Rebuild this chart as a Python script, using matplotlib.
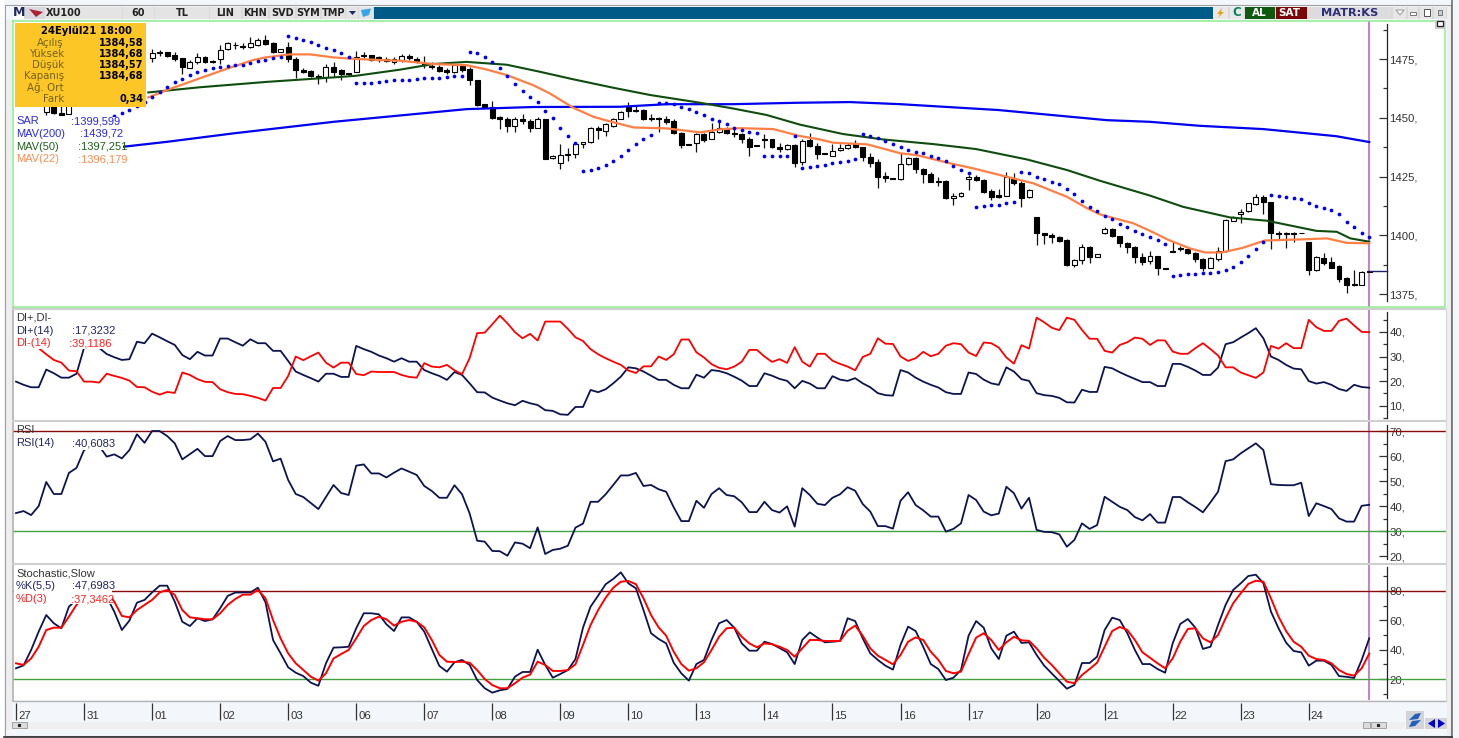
import numpy as np
import matplotlib
matplotlib.use("Agg")
import matplotlib.pyplot as plt
from matplotlib.patches import Rectangle, Polygon
from matplotlib.ticker import FuncFormatter

plt.rcParams['font.family'] = ['Liberation Sans', 'DejaVu Sans']

nan = np.nan

# bars: 9 hourly candles per trading day, one row per day. nan = hidden behind the info box
opens = [
    nan, nan, nan, nan, 1452.4, 1456.3, 1451.9, 1451.6, nan,
    nan, nan, nan, nan, nan, nan, nan, nan, nan,
    1475.3, 1477.8, 1477.8, 1476.7, 1475.3, 1471.3, 1473.6, 1475.7, 1474.1,
    1474.9, 1479.1, 1481.2, 1480.5, 1480.2, 1480.9, 1483.1, 1481.7, 1478.1,
    1480.2, 1474.9, 1470.3, 1469.9, 1467.9, 1467.2, 1471.7, 1470.3, 1468.9,
    1469.6, 1476.7, 1476.6, 1475.7, 1475, 1473.6, 1474.6, 1476.3, 1475,
    1473.4, 1472, 1471.7, 1470.3, 1469.6, 1472, 1470.7, 1466.3, 1455.7,
    1454.7, 1450.5, 1449.7, 1446.6, 1449.3, 1448.6, 1445.8, 1449.7, 1432.7,
    1430.9, 1434.7, 1434.7, 1438.7, 1439.5, 1445.6, 1444.6, 1446.5, 1449.6,
    1454.7, 1453.3, 1453.3, 1450, 1450, 1449.3, 1448.5, 1443.7, 1438.8,
    1439.4, 1443.1, 1441, 1443.8, 1445.5, 1443.7, 1443.2, 1441.2, 1438.4,
    1441, 1441, 1437.5, 1436.6, 1438.4, 1431.3, 1440.5, 1438, 1434.9,
    1433.9, 1436.1, 1437, 1438.7, 1437.4, 1433.4, 1431, 1425.1, 1424.5,
    1423.8, 1430.2, 1432.7, 1428.2, 1425.9, 1423.2, 1423, 1415.7, 1416.6,
    1423.8, 1424.9, 1423.5, 1418.7, 1417, 1416.8, 1423.8, 1422.1, 1416.1,
    1407.6, 1401.2, 1400.1, 1399.1, 1398, 1387.3, 1389.6, 1394.9, 1390.9,
    1400.8, 1402.7, 1399.7, 1396.8, 1395.1, 1390.6, 1389.2, 1391.2, 1386.1,
    1393.4, 1394.4, 1394.3, 1392.6, 1390, 1386.3, 1389.9, 1393.4, 1406.2,
    1409, 1410.3, 1413.2, 1416.4, 1414.3, 1401.2, 1400.8, 1400.8, 1401.1,
    1397.3, 1385.2, 1390.5, 1388.8, 1386.9, 1382, 1379.1, 1379, 1384.58,
]
highs = [
    nan, nan, nan, nan, 1458, 1457, 1456, 1457, nan,
    nan, nan, nan, nan, nan, nan, nan, nan, nan,
    1479.1, 1478.8, 1478.1, 1478.1, 1475.6, 1474.6, 1477.4, 1476.3, 1474.6,
    1480.9, 1482.1, 1482.4, 1481.7, 1484.2, 1484.1, 1485.2, 1482.1, 1479.2,
    1482.4, 1476, 1471.3, 1470.3, 1468.6, 1472.9, 1473.9, 1470.6, 1469.2,
    1478.5, 1478.1, 1476.8, 1476.3, 1476, 1475.7, 1477.1, 1477, 1475.7,
    1476.3, 1473.9, 1472.4, 1471.4, 1473.1, 1473.1, 1471.7, 1466.3, 1455.7,
    1457.3, 1450.7, 1450.2, 1450.5, 1451.6, 1449.3, 1450.5, 1449.7, 1434.2,
    1438.8, 1437, 1439.4, 1439.8, 1445.9, 1446.5, 1447.6, 1450, 1452.9,
    1456.8, 1455.1, 1453.6, 1451.6, 1450.2, 1450.7, 1449.6, 1443.9, 1438.8,
    1443.4, 1443.7, 1447.6, 1449, 1445.9, 1445.1, 1443.7, 1441.7, 1438.4,
    1443, 1441.2, 1439.1, 1438.8, 1438.7, 1440.8, 1443.6, 1439.1, 1434.9,
    1438.8, 1438.8, 1439.1, 1440.5, 1437.7, 1434.9, 1432.6, 1427.1, 1424.5,
    1434.9, 1433.2, 1433.2, 1428.5, 1427.1, 1424.9, 1423.5, 1417.8, 1418.4,
    1425.6, 1425.6, 1423.8, 1419.5, 1419.5, 1427.1, 1426.6, 1423.2, 1419.7,
    1407.9, 1401.2, 1400.8, 1399.8, 1398.3, 1389.9, 1396.1, 1395.4, 1392,
    1403.6, 1403, 1399.8, 1397.3, 1395.4, 1392.6, 1393.4, 1391.3, 1386.1,
    1397, 1395.4, 1394.6, 1393, 1390.2, 1390.6, 1395.1, 1406.8, 1408.2,
    1411, 1413.9, 1417.5, 1417.1, 1414.3, 1401.8, 1401.5, 1401.5, 1401.1,
    1397.3, 1391.2, 1392.6, 1390.9, 1387.3, 1382.1, 1385.2, 1384.9, 1384.68,
]
lows = [
    nan, nan, nan, nan, 1451.2, 1451.5, 1451.2, 1451.5, nan,
    nan, nan, nan, nan, nan, nan, nan, nan, nan,
    1473.6, 1476.3, 1475.7, 1474.3, 1468.6, 1471, 1472.9, 1473.2, 1473.2,
    1472.7, 1478.8, 1479.4, 1479.1, 1479.8, 1480.7, 1480.9, 1477.4, 1477.8,
    1473.9, 1466.8, 1468.9, 1467.2, 1464.6, 1465.4, 1467.2, 1466.3, 1468.2,
    1469.3, 1475.3, 1474, 1473.9, 1473.6, 1472.9, 1473.9, 1474.6, 1473.4,
    1471.4, 1470.6, 1469.6, 1468.6, 1469.2, 1469.3, 1464.1, 1455.1, 1454.3,
    1449.3, 1445.1, 1444.1, 1444.1, 1447.3, 1444.1, 1445.5, 1432.6, 1432.6,
    1428.1, 1431.7, 1433, 1437, 1439.2, 1441, 1442.4, 1446.2, 1449.3,
    1450.2, 1452.6, 1449, 1448.8, 1444.1, 1447.3, 1443.1, 1437.3, 1438.3,
    1435.3, 1439.8, 1440.8, 1443.7, 1443.1, 1441.8, 1439.1, 1433.9, 1438,
    1437, 1437, 1435.6, 1436.3, 1428.9, 1429.9, 1437.7, 1432.3, 1434.4,
    1433.7, 1435.8, 1436.7, 1437, 1431.7, 1429.2, 1420, 1422.5, 1423.8,
    1423.5, 1429.9, 1426.6, 1422.4, 1422.5, 1421.1, 1415.3, 1412.7, 1416.3,
    1419.3, 1423.1, 1417.8, 1415, 1415.7, 1416.7, 1421.4, 1412.2, 1416,
    1395.8, 1396.3, 1396.8, 1397.3, 1387, 1386.6, 1387.6, 1388.3, 1390.6,
    1400.5, 1399.4, 1395.1, 1392.6, 1388.3, 1387.3, 1388, 1383.1, 1385.6,
    1392.7, 1393.4, 1392, 1388.5, 1384.9, 1385.9, 1389.2, 1393.1, 1405.9,
    1405.4, 1410, 1412.9, 1409, 1394.1, 1398.3, 1394.7, 1397, 1400.8,
    1383.1, 1384.9, 1387.3, 1385.9, 1380.3, 1375.6, 1378.4, 1378.8, 1384.57,
]
closes = [
    nan, nan, nan, nan, 1457.5, 1452, 1451.3, 1456, nan,
    nan, nan, nan, nan, nan, nan, nan, nan, nan,
    1477.4, 1477.5, 1476.4, 1475.1, 1471.7, 1473.9, 1475.7, 1473.6, 1473.9,
    1478.8, 1481.7, 1480.8, 1480.2, 1481.7, 1483.1, 1481.4, 1477.8, 1479.1,
    1474.9, 1470.3, 1469.7, 1467.9, 1466.8, 1471.7, 1469.5, 1468.5, 1468.6,
    1476, 1476.4, 1474.6, 1474.4, 1474, 1474.9, 1476.4, 1475.4, 1474.3,
    1472.6, 1471.7, 1470, 1469.7, 1472.4, 1470.3, 1466.1, 1455.4, 1454.6,
    1450, 1449.7, 1446.5, 1449.5, 1448.5, 1445.8, 1449.7, 1432.6, 1433.9,
    1434.2, 1434.2, 1438.7, 1439.5, 1445.6, 1444.8, 1447.2, 1449.6, 1452.4,
    1452.9, 1452.9, 1449.3, 1449.6, 1449.3, 1448.3, 1443.4, 1438.5, 1438.3,
    1443.1, 1440.5, 1444.1, 1445.5, 1443.5, 1443.2, 1441.2, 1437.7, 1438,
    1440.5, 1437.4, 1436.7, 1438.3, 1430.6, 1440.2, 1438, 1434.6, 1434.4,
    1435.8, 1437.1, 1438.5, 1437.7, 1433.4, 1430.9, 1424.9, 1424.6, 1423.8,
    1430.2, 1432.7, 1428.2, 1425.9, 1422.8, 1422.9, 1416, 1416.6, 1418.1,
    1424.9, 1423.5, 1418.5, 1416.3, 1416.4, 1424.9, 1422.1, 1416, 1419.3,
    1401.2, 1400.1, 1399.1, 1397.7, 1387.3, 1389.6, 1394.9, 1390.9, 1391.9,
    1402.5, 1399.7, 1396.8, 1395.1, 1390.9, 1388.5, 1391.2, 1385.9, 1385.6,
    1392.9, 1394.2, 1392.3, 1389.9, 1386.3, 1390.2, 1393.4, 1406.5, 1407.6,
    1410, 1413.6, 1416.4, 1414, 1401.1, 1400.4, 1400.4, 1400.5, 1400.8,
    1385.2, 1390.6, 1388.3, 1386.2, 1381.4, 1379, 1378.7, 1384.4, 1384.68,
]

# parabolic SAR, first bars are hidden behind the info box
sar = [
    nan, nan, nan, nan, nan, nan, nan, nan, nan,
    nan, nan, nan, nan, 1450.9, 1452.1, 1453.3, 1455, 1456.7,
    1458.7, 1461, 1463, 1465.1, 1466.5, 1468.1, 1469.3, 1470.3, 1471.2,
    1471.8, 1472, 1472.3, 1472.6, 1473.2, 1474.1, 1474.6, 1475.3, 1476,
    1484.8, 1484.1, 1483.1, 1482.4, 1481, 1479.8, 1478.8, 1477.4, 1476,
    1464.7, 1464.7, 1464.9, 1465.3, 1465.5, 1466, 1466, 1466, 1466.5,
    1466.8, 1466.8, 1467, 1467.5, 1467.8, 1467.8, 1478.1, 1477.4, 1476,
    1473.7, 1471, 1467.8, 1464.2, 1461.3, 1459, 1456.8, 1452.9, 1449.8,
    1445.6, 1442.4, 1439.4, 1427.5, 1427.8, 1428.6, 1429.8, 1431.6, 1433.6,
    1436.3, 1438.8, 1441.1, 1442.8, 1456.4, 1456.4, 1455.8, 1454.7, 1453.6,
    1452.3, 1451, 1449.6, 1448.6, 1447.2, 1445.8, 1444.8, 1443.9, 1443.4,
    1433.6, 1433.6, 1433.6, 1433.8, 1442.2, 1428.7, 1428.9, 1429.3, 1429.9,
    1430.6, 1431.2, 1431.7, 1432.4, 1443.1, 1442.2, 1441.5, 1440.1, 1438.8,
    1437.7, 1436.3, 1435.4, 1434.9, 1433.7, 1432.9, 1431.5, 1429.5, 1427.8,
    1426.4, 1412.1, 1412.4, 1412.9, 1413, 1413.6, 1414.1, 1426.8, 1426.4,
    1424.9, 1423.9, 1422.8, 1421.8, 1419.8, 1417.6, 1414.7, 1412.1, 1410.2,
    1408.3, 1406.8, 1404.9, 1403.4, 1401.8, 1400.5, 1399.3, 1397.8, 1396.3,
    1382.7, 1383, 1383.4, 1383.5, 1383.8, 1384.1, 1384.5, 1385.2, 1386.6,
    1388.5, 1391.2, 1394, 1397, 1417, 1416.7, 1416.1, 1415.8, 1415.3,
    1413.9, 1412.6, 1411.6, 1410.7, 1408.9, 1405.8, 1403.6, 1401.1, 1399.1,
]

mav22_bars = [17.5, 20.3, 24.3, 28, 31.4, 33, 36.2, 38.9, 42, 44.7, 48.1, 50.8, 55.2, 59.6, 62.2, 64.9, 68.4,
              70.6, 73.7, 76.4, 79, 81.7, 86.1, 90.5, 93.1, 95.8, 100.2, 103.6, 106.3, 108.1, 112.6, 117,
              119.2, 123.6, 126.6, 130.2, 134.6, 139, 141.7, 143.4, 147.8, 150, 152.4, 155.3, 157.3, 159.5,
              162.3, 165.2, 170.3, 173.4, 176, 179]
mav22 = [1458.7, 1462.2, 1466.8, 1471, 1474.6, 1475.7, 1477, 1477, 1475.7, 1475.1, 1474.6, 1474.3, 1472.9, 1472.4,
         1470.6, 1468.2, 1463.9, 1460.4, 1454.3, 1450.4, 1448.1, 1445.9, 1445.5, 1443.8, 1445.1, 1445.6, 1445.2,
         1442.3, 1440.8, 1439.4, 1438.7, 1434.9, 1434.1, 1430.6, 1428.5, 1425.6, 1422.1, 1416.4, 1411.5, 1408.9,
         1405.1, 1401.9, 1398.1, 1394.4, 1392.7, 1392.7, 1394.7, 1397.8, 1398.3, 1398.7, 1396.8, 1396.6]
mav50_bars = [17.5, 24.3, 33.2, 42, 45, 50.8, 55.2, 59.6, 64.9, 69.3, 73.7, 79, 83.9, 90.5, 94.8, 99.3, 103.7,
              109.4, 114.7, 121.4, 127, 133.7, 139, 143.4, 150, 154.4, 160.6, 165.5, 172, 174.7, 176.5, 179]
mav50 = [1460.8, 1463, 1465.3, 1467.2, 1467.9, 1470.5, 1472.9, 1473.8, 1472.6, 1469.6, 1466.4, 1462.8, 1459.7,
         1456.4, 1454, 1451.2, 1447.1, 1443.1, 1440.8, 1438.8, 1436.7, 1432.3, 1427.8, 1423.2, 1416.9, 1412.1,
         1407.6, 1406.2, 1401.9, 1401.5, 1398.7, 1397.3]
mav200_bars = [14.2, 20, 28.8, 42, 50.8, 59.6, 68.4, 79.9, 86.1, 94.8, 103.2, 110.3, 117, 130, 144.3, 150, 156.6,
               165, 174.6, 179]
mav200 = [1437.7, 1439.8, 1443.4, 1448.3, 1451, 1453.7, 1454.6, 1454.7, 1455.8, 1455.8, 1456.4, 1456.7, 1455.8,
          1453.3, 1449, 1448.3, 1446.6, 1445.2, 1442.2, 1439.7]

di_plus = [
    19.8, 18.5, 17.5, 17.5, 24.7, 23.2, 21.4, 21.4, 23,
    33.5, 36, 33.5, 31, 29.7, 28.6, 28.9, 36, 35.4,
    39.3, 37.8, 36.2, 34.7, 30.6, 28.9, 31.9, 30.4, 30.4,
    37.3, 37.3, 35.8, 34.4, 37, 35.4, 35.4, 32.3, 32.3,
    28.2, 23.9, 22.5, 21.2, 19.8, 23, 23, 21.7, 21.7,
    34.3, 33, 31.9, 30.4, 29.3, 27.9, 29.3, 27.9, 27.9,
    24.5, 23.2, 22.1, 20.5, 23.7, 22.5, 19.1, 15.5, 15.4,
    13.3, 12.1, 11, 10.2, 12, 11, 10.3, 8.2, 7.9,
    6.5, 6.3, 9.5, 9.5, 16.4, 15.5, 16.7, 19.1, 21.8,
    25.6, 25.2, 23.9, 22.2, 20.5, 20.5, 18.5, 17.1, 17.1,
    22.6, 21.4, 24.5, 24.1, 23.2, 21.8, 20.2, 18, 18,
    23.2, 22.2, 20.9, 20.1, 17.1, 20.1, 19, 17.1, 17.1,
    22, 20.6, 20.1, 21.2, 19.1, 17.5, 15.1, 14.3, 14.1,
    24.5, 23.5, 21.4, 19.8, 18.5, 17.4, 15.5, 14.8, 14.8,
    23.5, 22.9, 20.6, 19.1, 18.5, 25.6, 23.9, 20.8, 20.1,
    15.1, 14.3, 14, 13.2, 11.4, 11.3, 16.5, 15.6, 15.6,
    25.8, 25.2, 23.6, 22.2, 20.9, 19.6, 19.6, 18, 18,
    27, 27, 25.8, 24.3, 22.5, 22.5, 25.5, 35, 35.8,
    37.7, 39.5, 41.5, 37.4, 30, 28.6, 26.6, 25.1, 24.8,
    20, 19, 19.6, 18.5, 16.8, 16, 18.5, 17.6, 17.32,
]
di_minus = [
    38, 37, 35.5, 33.4, 30.9, 28.6, 27.5, 24.3, 24,
    19.8, 19.8, 19.4, 23, 22.1, 21.3, 20.2, 17.6, 17.5,
    15.7, 14.5, 15.6, 15.2, 23.5, 22.5, 20.8, 19.7, 19.6,
    16.7, 15.5, 14.8, 14.7, 14, 13.2, 12.1, 17.2, 17.2,
    22.1, 30, 28.5, 30.1, 31.6, 27.5, 25.5, 27.5, 27.5,
    22.9, 22.4, 23.9, 23.7, 23.7, 23.7, 22.5, 21.7, 21.4,
    27.3, 25.9, 25.6, 26.6, 24.4, 22.8, 29.3, 39.5, 39.7,
    43.1, 46.6, 43.5, 39.9, 37.4, 39.2, 36.5, 44.2, 44.2,
    44.2, 41.2, 37.8, 36.3, 33, 30.9, 29.3, 27.9, 26.6,
    24.3, 23.3, 26, 26, 30, 28.6, 30.9, 36.9, 36.9,
    31.7, 29.6, 26.9, 25.4, 24.8, 25.9, 27.9, 32.7, 32.7,
    30, 27.8, 28.9, 27.4, 33.8, 27.9, 25.9, 31.1, 31.1,
    28.3, 27, 25.9, 24.4, 29.8, 31.1, 37.4, 35.2, 35.1,
    30, 28.2, 29.3, 31.9, 30.1, 31.1, 34.4, 35.4, 35,
    31.6, 30.2, 35.7, 35.4, 33.6, 29.6, 27.1, 34.6, 33.2,
    45.8, 43.9, 41.7, 40.7, 45.8, 44.9, 40.8, 37.2, 37.2,
    32.3, 31.6, 34.7, 35.8, 37.7, 37.2, 34.7, 36.6, 36.5,
    32, 31.1, 31.1, 33.4, 35.4, 33, 30.4, 25.6, 25.6,
    23.5, 22.4, 21.3, 23.5, 34.3, 33.2, 35.4, 33.4, 33.4,
    44.9, 41.9, 40.4, 40.4, 44.5, 45.4, 42.6, 40, 39.9,
]
rsi = [
    37.3, 38.1, 36.5, 40.1, 49.7, 44.9, 44.9, 53.3, 55.3,
    62.4, 64, 64, 59.8, 60.7, 59.1, 62.4, 68.7, 65.3,
    70, 70, 68, 65.1, 58.7, 60.8, 62.9, 60, 60,
    66, 68, 66.4, 66.4, 66.7, 69, 65.7, 57.9, 59,
    50.5, 44.9, 43.7, 41.3, 38.9, 43.7, 48.5, 45.3, 44.5,
    56.2, 56.7, 53.1, 53.1, 51.5, 53.4, 55.1, 53.8, 52.5,
    48.1, 46.1, 43.4, 43.4, 48.4, 44.8, 37.2, 26.3, 25.9,
    22.2, 22.1, 20.3, 25.6, 25.1, 23.3, 31.6, 21, 22.6,
    23.1, 24.3, 31.5, 33.1, 41.8, 41.8, 44.8, 48.5, 52.3,
    52.3, 53.3, 48.1, 48.5, 46.8, 45.8, 39.6, 34.1, 34.1,
    42.2, 39.4, 44.9, 47.2, 44.5, 44, 41.6, 37.7, 37.7,
    41.8, 38.5, 37.5, 40, 31.9, 47.2, 44.5, 41, 40.5,
    43.4, 44.8, 47.6, 46.2, 40.9, 37.9, 32.1, 32.1, 31.1,
    42.2, 45.6, 40.5, 38.4, 35.9, 35.9, 29.9, 31, 33.2,
    44.5, 42.5, 37.9, 36.4, 37.1, 47.8, 45.2, 39.1, 43.4,
    30.6, 29.8, 29.7, 28.8, 23.9, 26.6, 33.2, 31, 32.5,
    43.8, 41.8, 39.8, 38.5, 35.7, 34.4, 36.9, 33.5, 33.5,
    43.7, 43.7, 41.6, 39.7, 37.6, 41.6, 45.8, 58, 58.7,
    61.1, 63.1, 65.1, 62.4, 48.8, 48.5, 48.4, 48.4, 49.4,
    36.1, 41.2, 40.1, 38.9, 35.2, 33.9, 33.9, 40.2, 40.6,
]
stoch_k = [
    27.3, 29.3, 39.8, 52.3, 63.6, 58, 54.6, 69.3, 74,
    78, 80, 78, 76, 65.9, 53.4, 59.8, 72, 73.9,
    79, 83.6, 83.6, 72.7, 59, 56.1, 61.4, 59.5, 60.7,
    68.2, 76.6, 78.9, 79, 79, 82.2, 72.3, 46.6, 37.5,
    28, 24.3, 22, 17.5, 15.4, 30.7, 41.4, 41.6, 42,
    54.6, 64.8, 64.8, 64.1, 57.3, 52.7, 62, 62, 59,
    52.3, 40.5, 28.9, 25, 31.4, 33, 29.6, 19.3, 13.7,
    10.7, 12.3, 13.2, 21.6, 24.8, 24.8, 40, 29.6, 20.9,
    23.4, 26.1, 33.6, 55, 69.3, 76.8, 84.6, 88.2, 92.7,
    85.2, 81.8, 67, 51.2, 47.3, 44.3, 31.1, 23.9, 18.9,
    30.2, 33, 46.6, 58, 60.2, 55, 44.3, 39.3, 39.3,
    45.4, 43.9, 41.1, 38.2, 30.2, 46.6, 51.8, 48.2, 45,
    45.4, 45.9, 61.4, 59.5, 47.7, 37.5, 33, 29.1, 26.4,
    43.2, 55.7, 52.7, 42, 30.2, 26.8, 19.3, 20.9, 26.1,
    49.5, 59.5, 55, 40.9, 33.6, 49.5, 52.3, 44.6, 45,
    36.4, 29.1, 23.9, 18.6, 13.4, 15.9, 30.9, 30.9, 35.2,
    53.4, 61.8, 60.2, 51.2, 39.8, 30.2, 30.2, 26.8, 24.3,
    44.3, 57.5, 60.9, 55, 40.5, 42, 56.8, 70.5, 80.7,
    85.2, 90.2, 91.1, 85.2, 65.9, 54.6, 44.8, 39.1, 38.2,
    29.1, 32.5, 32.5, 29.6, 22, 21.5, 20.7, 33, 47.7,
]
stoch_d = [
    30.7, 29.6, 34, 42, 53.4, 55, 55, 62.5, 70.5,
    76, 80, 81, 80, 72.7, 63, 62, 67, 70.5,
    73.9, 79, 80.7, 77.3, 67, 62, 61.4, 60.7, 60.7,
    64.8, 70.5, 74.5, 77.5, 77.5, 80.7, 75, 60.2, 47.7,
    37.5, 30.7, 26.1, 21.6, 18.9, 23.9, 34, 37, 39.8,
    47.7, 56.1, 60.2, 62.5, 60.7, 56.4, 59, 60.2, 59,
    55.2, 46.6, 36.4, 31.8, 31.6, 31.8, 31.1, 26.1, 20,
    15.9, 13.7, 13.7, 17.1, 20.9, 23, 31.8, 29.6, 25.5,
    25.5, 26.1, 30, 43.2, 56.8, 67, 75.4, 82.2, 86.3,
    86.8, 84.6, 75, 63.6, 55.2, 49.5, 38.6, 30.2, 25.7,
    27.3, 31.4, 39.8, 48.8, 54.6, 55, 48.8, 44.3, 41.6,
    44.3, 43.7, 42, 39.8, 35.2, 40.9, 46.6, 46.6, 45.9,
    45.9, 45.9, 52.9, 56.4, 49.5, 40.9, 35.9, 33, 30,
    36.4, 45.4, 48.4, 46.6, 38.6, 33, 25.5, 23.9, 25,
    37, 48.2, 51.2, 46.6, 39.8, 45, 48.8, 46.4, 46,
    40.9, 34.5, 29.6, 23.9, 18.2, 17.1, 22.7, 26.8, 31.1,
    42, 52.7, 55.5, 53.4, 46.6, 38.2, 34.5, 30.7, 27.3,
    34, 45.4, 54.1, 54.6, 47.7, 45, 50, 61.4, 71.6,
    78.4, 84.8, 87, 86.3, 75, 62.5, 52.7, 45.4, 42,
    35.9, 33.6, 33, 30.7, 26.1, 23.4, 22.3, 27.3, 37.35,
]

day_labels = ['27', '31', '01', '02', '03', '06', '07', '08', '09', '10',
              '13', '14', '15', '16', '17', '20', '21', '22', '23', '24']
bars_per_day = 9

info_rows = ['Açılış', 'Yüksek', 'Düşük', 'Kapanış', 'Ağ. Ort', 'Fark']
info_values = ['1384,58', '1384,68', '1384,57', '1384,68', '', '0,34']

W, H = 1459, 738
NAVY = '#0c1450'
RED = '#ff0000'
ORANGE = '#ff7f45'
DKGREEN = '#0e4d0e'
BLUE = '#0000f0'
DKRED = '#8b0a0a'
LINEGREEN = '#43a043'
MAGENTA = '#b45cc4'

fig = plt.figure(figsize=(W / 100, H / 100), dpi=100, facecolor='#f3f6fa')


def px_axes(left, top, right, bottom):
    # axes placed by screen pixels
    return fig.add_axes([left / W, 1 - bottom / H, (right - left) / W, (bottom - top) / H])


bars = np.arange(len(closes))
# x pixel of bar i is 16 + 7.56 i
x_limits = ((13 - 16) / 7.56, (1446 - 16) / 7.56)
axis_x = (1386.5 - 16) / 7.56


def setup_panel(ax, ylim, major, minor, bounds):
    ax.set_xlim(x_limits)
    ax.set_ylim(ylim)
    ax.set_facecolor('white')
    for side in ['top', 'left', 'bottom']:
        ax.spines[side].set_visible(False)
    ax.spines['right'].set_position(('data', axis_x))
    ax.spines['right'].set_bounds(bounds)
    ax.spines['right'].set_linewidth(0.9)
    ax.spines['right'].set_color('#222222')
    ax.set_xticks([])
    ax.yaxis.tick_right()
    ax.set_yticks(major)
    ax.set_yticks(minor, minor=True)
    ax.yaxis.set_major_formatter(FuncFormatter(lambda v, _: f'{v:.0f},'))
    ax.tick_params(axis='y', which='major', direction='in', length=6, width=0.9, pad=2,
                   labelsize=8.2, labelcolor='#333333', color='#333333')
    ax.tick_params(axis='y', which='minor', direction='in', length=3, width=0.9, color='#333333')
    ax.axvline(bars[-1], color=MAGENTA, lw=1.1, zorder=1)


# price panel
ax_price = px_axes(13, 21, 1446, 307)
setup_panel(ax_price, (1369.5, 1491.2), [1375, 1400, 1425, 1450, 1475],
            [1387.5, 1412.5, 1437.5, 1462.5, 1487.5], (1372, 1490))
for i in bars:
    if np.isnan(closes[i]):
        continue
    ax_price.vlines(i, lows[i], highs[i], color='#111111', lw=0.9, zorder=2)
    up = closes[i] >= opens[i]
    ax_price.bar(i, abs(closes[i] - opens[i]), bottom=min(opens[i], closes[i]), width=0.66,
                 color='white' if up else 'black', edgecolor='black', linewidth=0.8, zorder=3)
ax_price.plot(mav200_bars, mav200, color=BLUE, lw=1.6, zorder=4)
ax_price.plot(mav50_bars, mav50, color=DKGREEN, lw=1.5, zorder=5)
ax_price.plot(mav22_bars, mav22, color=ORANGE, lw=1.6, zorder=6)
ax_price.plot(bars, sar, ls='none', marker='o', ms=2.7, mew=0, color=BLUE, zorder=7)
ax_price.plot([bars[-1], axis_x], [closes[-1], closes[-1]], color='#20206a', lw=1, zorder=4)

# DI panel
ax_di = px_axes(13, 309.5, 1446, 420)
setup_panel(ax_di, (4.2, 49.1), [10, 20, 30, 40], [5, 15, 25, 35, 45], (5, 48))
ax_di.plot(bars, di_plus, color=NAVY, lw=1.3, zorder=3)
ax_di.plot(bars, di_minus, color=RED, lw=1.3, zorder=4)

# RSI panel
ax_rsi = px_axes(13, 422, 1446, 563)
setup_panel(ax_rsi, (17.4, 73.6), [20, 30, 40, 50, 60, 70], [25, 35, 45, 55, 65], (19, 72.5))
ax_rsi.axhline(70, color=DKRED, lw=1, zorder=2)
ax_rsi.axhline(30, color=LINEGREEN, lw=1, zorder=2)
ax_rsi.plot(bars, rsi, color=NAVY, lw=1.3, zorder=3)

# stochastic panel
ax_sto = px_axes(13, 565, 1446, 700)
setup_panel(ax_sto, (5.7, 97.7), [20, 40, 60, 80], [10, 30, 50, 70, 90], (7, 96))
ax_sto.axhline(80, color=DKRED, lw=1, zorder=2)
ax_sto.axhline(20, color=LINEGREEN, lw=1, zorder=2)
ax_sto.plot(bars, stoch_k, color=NAVY, lw=1.3, zorder=3)
ax_sto.plot(bars, stoch_d, color=RED, lw=1.4, zorder=4)

# date strip
ax_date = px_axes(13, 701, 1446, 722)
ax_date.set_xlim(x_limits)
ax_date.set_ylim(0, 1)
ax_date.axis('off')
for k, lab in enumerate(day_labels):
    pos = k * bars_per_day
    ax_date.vlines(pos, 0.1, 0.9, color='#333333', lw=0.9)
    ax_date.annotate(lab, (pos, 0.3), xytext=(1.5, 0), textcoords='offset points', ha='left', va='center',
                     fontsize=8.2, color='#333333')

# window furniture on top, in screen pixels
ui = fig.add_axes([0, 0, 1, 1], zorder=10)
ui.set_xlim(0, W)
ui.set_ylim(H, 0)
ui.axis('off')


def box(x0, y0, x1, y1, fc, ec='none', lw=0.0, z=1):
    ui.add_patch(Rectangle((x0, y0), x1 - x0, y1 - y0, facecolor=fc, edgecolor=ec, linewidth=lw, zorder=z))


# covers behind the legends
box(14, 117, 123, 165, 'white')
box(14, 314, 111, 348.5, 'white')
box(14, 433, 113, 450, 'white')
box(14, 580, 112, 604, 'white')

# panel borders
ui.plot([13, 1445, 1445, 13, 13], [20.5, 20.5, 307, 307, 20.5], color='#90ee90', lw=1.1, zorder=2)
ui.plot([12.5, 12.5], [308, 701], color='#b0b0b0', lw=1.2, zorder=2)
for yy in [308.7, 420.8, 563.8]:
    ui.plot([13, 1445], [yy, yy], color='#cfcfcf', lw=1.5, zorder=2)
ui.plot([13, 1446], [700.5, 700.5], color='#b5b5b5', lw=1.0, zorder=2)
ui.plot([1445.5, 1445.5], [308, 701], color='#dcdcdc', lw=1.0, zorder=2)

# window frame
box(0, 0, 4, H, 'white', z=0)
box(5, 20, 12, 730, '#eeeeee', z=0)
ui.plot([4.5, 4.5, 1451, 1451, 4.5], [5, 735.5, 735.5, 5, 5], color='#a0a0a0', lw=0.8, zorder=2)
ui.plot([1452, 1452], [0, H], color='#707070', lw=1.2, zorder=2)
ui.plot([4, 1452], [736.5, 736.5], color='#303030', lw=1.2, zorder=2)
box(1446.5, 6, 1451, 735, '#eeeeee', z=1)
box(5, 722, 1405, 729, '#efefef', z=1)

# toolbar
box(13, 6.5, 1447, 19, '#d9d9d9', z=2)
box(374, 6.5, 1213, 19, '#005a87', z=3)
toolbar = [(45, 122, 'XU100', 'left'), (123, 154, '60', 'center'), (155, 209, 'TL', 'center'),
           (210, 241, 'LIN', 'center'), (243, 268, 'KHN', 'center'), (270, 295, 'SVD', 'center'),
           (297, 320, 'SYM', 'center'), (322, 345, 'TMP', 'center')]
for x0, x1, lab, al in toolbar:
    box(x0, 7, x1, 18.5, '#e4e4e4', z=3)
    tx = x0 + 1 if al == 'left' else (x0 + x1) / 2
    ui.text(tx, 12.7, lab, ha=al, va='center', fontsize=7, fontweight='bold', family='DejaVu Sans',
            color='#222222', zorder=4)
box(13, 7, 24, 18.5, 'white', z=3)
ui.text(18.7, 12.7, 'M', ha='center', va='center', fontsize=9, fontweight='bold', family='DejaVu Sans',
        color='#1d2a66', zorder=4)
box(28, 7, 44, 18.5, '#d8d8e0', z=3)
ui.add_patch(Polygon([[29, 9], [43, 12], [36, 17]], facecolor='#b02030', zorder=4))
box(346, 7, 358, 18.5, '#e4e4e4', z=3)
ui.add_patch(Polygon([[349, 11], [356, 11], [352.5, 15]], facecolor='#1d2a66', zorder=4))
box(359, 7, 373, 18.5, '#e4e4e4', z=3)
ui.add_patch(Polygon([[361, 10], [371, 8.5], [369, 15], [363, 17]], facecolor='#35a7e7', zorder=4))

box(1213, 7, 1228, 18.5, '#e8e8e8', z=3)
ui.add_patch(Polygon([[1222, 8], [1217, 14], [1220, 14], [1218, 18], [1224, 12], [1221, 12]],
                     facecolor='#e8a020', zorder=4))
box(1230, 7, 1244, 18.5, '#e8e8e8', z=3)
ui.text(1237, 12.8, 'C', ha='center', va='center', fontsize=8.5, fontweight='bold', family='DejaVu Sans',
        color='#0a8060', zorder=4)
box(1245, 7, 1275, 18.5, '#0f5a0f', z=3)
ui.text(1259, 12.8, 'AL', ha='center', va='center', fontsize=7.5, fontweight='bold', family='DejaVu Sans',
        color='white', zorder=4)
box(1276, 7, 1307, 18.5, '#7a0808', z=3)
ui.text(1289, 12.8, 'SAT', ha='center', va='center', fontsize=7.5, fontweight='bold', family='DejaVu Sans',
        color='white', zorder=4)
box(1308, 7, 1391, 18.5, '#dcdcdc', z=3)
ui.text(1350, 12.8, 'MATR:KS', ha='center', va='center', fontsize=8.2, fontweight='bold', family='DejaVu Sans',
        color='#2d2d7a', zorder=4)
for x0, x1 in [(1393, 1406), (1408, 1418), (1420, 1432), (1434, 1446)]:
    box(x0, 7, x1, 18.5, '#e6e6e6', z=3)
ui.add_patch(Polygon([[1396, 10], [1404, 10], [1400, 15]], facecolor='white', edgecolor='#999999', lw=0.7, zorder=4))
box(1410, 12, 1416, 15, 'white', '#777777', 0.7, z=4)
box(1424, 9, 1430, 16, 'white', '#555555', 0.7, z=4)
box(1438, 10, 1442, 15, '#cccccc', '#777777', 0.7, z=4)
box(1435, 20, 1445, 29, '#cccccc', z=3)
box(1437, 21, 1443, 26, 'white', '#222222', 0.9, z=4)

# info box
box(15, 22.5, 146, 106.5, '#fcc726', z=5)
ui.text(86, 30.5, '24Eylül21 18:00', ha='center', va='center', fontsize=7.2, fontweight='bold',
        family='DejaVu Sans', color='black', zorder=6)
for k, lab in enumerate(info_rows):
    yy = 42.5 + k * 11.2
    ui.text(64, yy, lab, ha='right', va='center', fontsize=7.4, family='DejaVu Sans', color='#74601c', zorder=6)
    ui.text(143, yy, info_values[k], ha='right', va='center', fontsize=7, fontweight='bold',
            family='DejaVu Sans', color='black', zorder=6)

# legends
legend_rows = [(16, 121.5, 'SAR', ':1399,599', 71, '#2a2ae0'),
               (16, 134, 'MAV(200)', ':1439,72', 80, '#2a2ae0'),
               (16, 146.5, 'MAV(50)', ':1397,251', 78, '#206020'),
               (16, 159, 'MAV(22)', ':1396,179', 78, '#ff8c55'),
               (16, 330.5, 'DI+(14)', ':17,3232', 72, '#1f2660'),
               (16, 343, 'DI-(14)', ':39,1186', 69, '#ff2020'),
               (16, 443, 'RSI(14)', ':40,6083', 72, '#1f2660'),
               (16, 586, '%K(5,5)', ':47,6983', 72, '#1f2660'),
               (16, 599, '%D(3)', ':37,3462', 71, '#ff2020')]
for x0, yy, name, val, xv, col in legend_rows:
    ui.text(x0, yy, name, ha='left', va='center', fontsize=8, color=col, zorder=6)
    ui.text(xv, yy, val, ha='left', va='center', fontsize=8, color=col, zorder=6)
ui.text(16, 318, 'DI+,DI-', ha='left', va='center', fontsize=8, color='#333333', zorder=6)
ui.text(16, 430, 'RSI', ha='left', va='center', fontsize=8, color='#333333', zorder=6)
ui.text(16, 574, 'Stochastic,Slow', ha='left', va='center', fontsize=8, color='#333333', zorder=6)

# scroll handles and nav buttons
box(12, 722, 27, 728, '#dcdcdc', '#999999', 0.6, z=3)
box(1363, 722, 1370, 728, '#dcdcdc', '#999999', 0.6, z=3)
box(1371, 722, 1386, 728, '#dcdcdc', '#999999', 0.6, z=3)
ui.plot([19, 1378], [725, 725], ls='none', marker='s', ms=1.3, color='#222222', zorder=4)
box(1406, 711, 1424, 729, '#d4d4d4', z=3)
ui.add_patch(Polygon([[1409, 720], [1415, 714], [1421, 713], [1418, 719]], facecolor='#1f5fc0', zorder=4))
ui.add_patch(Polygon([[1421, 720], [1415, 726], [1409, 727], [1412, 721]], facecolor='#1f5fc0', zorder=4))
box(1425, 718, 1447, 729, '#d4d4d4', z=3)
ui.add_patch(Polygon([[1428, 723.5], [1435, 719], [1435, 728]], facecolor='#0000cc', zorder=4))
ui.add_patch(Polygon([[1445, 723.5], [1438, 719], [1438, 728]], facecolor='#0000cc', zorder=4))

fig.savefig('out.png', dpi=100, facecolor=fig.get_facecolor())
